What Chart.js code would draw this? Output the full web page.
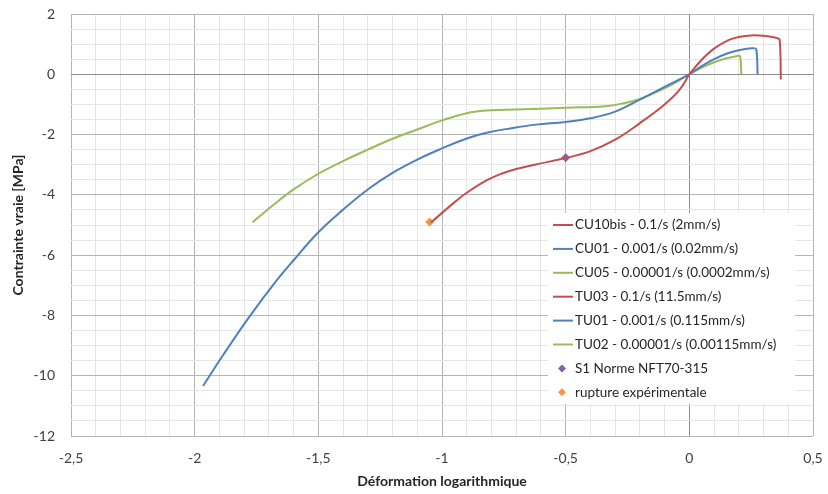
<!DOCTYPE html>
<html><head><meta charset="utf-8">
<script src="https://cdn.jsdelivr.net/npm/chart.js@4.4.1/dist/chart.umd.min.js"></script>
<style>html,body{margin:0;padding:0;background:#fff}</style>
</head><body>
<canvas id="c" width="828" height="494"></canvas>
<script>
// ---- data ----
const seriesNames = [
  'CU10bis - 0.1/s (2mm/s)',
  'CU01 - 0.001/s (0.02mm/s)',
  'CU05 - 0.00001/s (0.0002mm/s)',
  'TU03 - 0.1/s (11.5mm/s)',
  'TU01 - 0.001/s (0.115mm/s)',
  'TU02 - 0.00001/s (0.00115mm/s)',
  'S1 Norme NFT70-315',
  'rupture expérimentale'
];
const cu10bisX = [-1.045, -0.95, -0.9, -0.82, -0.76, -0.7, -0.62, -0.5, -0.4, -0.3, -0.2, -0.1, -0.04, 0];
const cu10bisY = [-4.92, -4.25, -3.93, -3.52, -3.3, -3.14, -2.99, -2.78, -2.55, -2.17, -1.62, -1.0, -0.52, 0];
const cu01X = [-1.966, -1.883, -1.782, -1.681, -1.6, -1.5, -1.4, -1.3, -1.2, -1.1, -1.0, -0.9, -0.82, -0.72, -0.62, -0.5, -0.4, -0.3, -0.2, -0.1, 0];
const cu01Y = [-10.34, -9.29, -8.08, -6.97, -6.17, -5.24, -4.49, -3.82, -3.27, -2.83, -2.46, -2.13, -1.94, -1.79, -1.67, -1.58, -1.46, -1.24, -0.84, -0.42, 0];
const cu05X = [-1.766, -1.681, -1.6, -1.5, -1.4, -1.3, -1.2, -1.1, -1.0, -0.9, -0.82, -0.74, -0.6, -0.5, -0.34, -0.26, -0.2, -0.135, -0.067, 0];
const cu05Y = [-4.91, -4.33, -3.82, -3.3, -2.88, -2.5, -2.14, -1.83, -1.53, -1.29, -1.2, -1.18, -1.14, -1.11, -1.06, -0.95, -0.82, -0.59, -0.33, 0];
const tu03X = [0, 0.05, 0.1, 0.16, 0.2, 0.25, 0.31, 0.35, 0.365, 0.37];
const tu03Y = [0, 0.48, 0.85, 1.14, 1.24, 1.29, 1.27, 1.21, 1.15, -0.17];
const tu01X = [0, 0.05, 0.1, 0.15, 0.2, 0.25, 0.27, 0.276];
const tu01Y = [0, 0.27, 0.5, 0.68, 0.8, 0.86, 0.84, 0];
const tu02X = [0, 0.05, 0.1, 0.15, 0.19, 0.205, 0.21];
const tu02Y = [0, 0.22, 0.4, 0.53, 0.6, 0.6, 0];
const s1X = [-0.5];
const s1Y = [-2.77];
const ruptureX = [-1.05];
const ruptureY = [-4.9];
const xTickValues = [-2.5, -2, -1.5, -1, -0.5, 0, 0.5];
const yTickValues = [2, 0, -2, -4, -6, -8, -10, -12];

const RED = '#C0504D', BLUE = '#4F81BD', GREEN = '#9BBB59', PURPLE = '#8064A2', ORANGE = '#F79646';
const FONT = 'Lato, "Liberation Sans", sans-serif';

function pts(xs, ys) { return xs.map((x, i) => ({x: x, y: ys[i]})); }
function lineDs(label, xs, ys, color, t) {
  return {label, data: pts(xs, ys), showLine: true, borderColor: color, backgroundColor: color,
    borderWidth: 2, pointRadius: 0, pointHoverRadius: 0, tension: t, fill: false};
}
function markDs(label, xs, ys, color) {
  return {label, data: pts(xs, ys), showLine: false, borderColor: color, backgroundColor: color,
    pointStyle: 'rectRot', pointRadius: 4.5, borderWidth: 0};
}
const datasets = [
  lineDs(seriesNames[0], cu10bisX, cu10bisY, RED, 0.4),
  lineDs(seriesNames[1], cu01X, cu01Y, BLUE, 0.4),
  lineDs(seriesNames[2], cu05X, cu05Y, GREEN, 0.4),
  lineDs(seriesNames[3], tu03X, tu03Y, RED, 0.3),
  lineDs(seriesNames[4], tu01X, tu01Y, BLUE, 0.3),
  lineDs(seriesNames[5], tu02X, tu02Y, GREEN, 0.3),
  markDs(seriesNames[6], s1X, s1Y, PURPLE),
  markDs(seriesNames[7], ruptureX, ruptureY, ORANGE)
];

const fmt = v => String(v).replace('.', ',');
function isTick(v, list) { return list.some(t => Math.abs(t - v) < 1e-6); }

const boxLegend = {
  id: 'boxLegend',
  afterDatasetsDraw(chart) {
    const ctx = chart.ctx;
    const x0 = 548, y0 = 213, w = 247, h = 191;
    ctx.save();
    ctx.fillStyle = '#ffffff';
    ctx.fillRect(x0, y0, w, h);
    ctx.font = '13.5px ' + FONT;
    ctx.textBaseline = 'middle';
    chart.data.datasets.forEach((ds, i) => {
      const cy = y0 + 12 + i * 23.9;
      if (ds.showLine) {
        ctx.strokeStyle = ds.borderColor; ctx.lineWidth = 2;
        ctx.beginPath(); ctx.moveTo(x0 + 5, cy); ctx.lineTo(x0 + 25, cy); ctx.stroke();
      } else {
        ctx.fillStyle = ds.backgroundColor;
        ctx.beginPath();
        ctx.moveTo(x0 + 14, cy - 4); ctx.lineTo(x0 + 18, cy); ctx.lineTo(x0 + 14, cy + 4); ctx.lineTo(x0 + 10, cy);
        ctx.closePath(); ctx.fill();
      }
      ctx.fillStyle = '#262626';
      ctx.fillText(ds.label, x0 + 27, cy);
    });
    ctx.restore();
  }
};

new Chart(document.getElementById('c'), {
  type: 'scatter',
  data: {datasets},
  options: {
    responsive: false, animation: false,
    layout: {padding: {top: 14, right: 15, left: 0, bottom: 0}},
    plugins: {legend: {display: false}, tooltip: {enabled: false}},
    scales: {
      x: {
        type: 'linear', min: -2.5, max: 0.5,
        afterFit(s) { s.height = 58; s.paddingLeft = 0; s.paddingRight = 0; },
        ticks: {stepSize: 0.1, autoSkip: false, maxRotation: 0, padding: 14,
          color: '#404040', font: {family: FONT, size: 14},
          callback: v => isTick(v, xTickValues) ? fmt(Math.round(v * 10) / 10) : ''},
        grid: {drawTicks: false,
          color: c => { const v = c.tick ? c.tick.value : 1; if (Math.abs(v) < 1e-6) return '#8c8c8c'; return isTick(v, xTickValues) ? '#b5b5b5' : '#e6e6e6'; },
          lineWidth: 1},
        border: {display: false},
        title: {display: true, text: 'Déformation logarithmique', color: '#262626',
          font: {family: FONT, size: 14, weight: 'bold'}, padding: {top: 0, bottom: 4}}
      },
      y: {
        type: 'linear', min: -12, max: 2,
        afterFit(s) { s.width = 71; s.paddingTop = 0; s.paddingBottom = 0; },
        ticks: {stepSize: 0.5, autoSkip: false, padding: 16,
          color: '#404040', font: {family: FONT, size: 14},
          callback: v => isTick(v, yTickValues) ? fmt(Math.round(v)) : ''},
        grid: {drawTicks: false,
          color: c => { const v = c.tick ? c.tick.value : 1; if (Math.abs(v) < 1e-6) return '#8c8c8c'; return isTick(v, yTickValues) ? '#b5b5b5' : '#e6e6e6'; },
          lineWidth: 1},
        border: {display: false},
        title: {display: true, text: 'Contrainte vraie [MPa]', color: '#262626',
          font: {family: FONT, size: 14, weight: 'bold'}, padding: {top: 10, bottom: 0}}
      }
    }
  },
  plugins: [boxLegend]
});
</script>
</body></html>
